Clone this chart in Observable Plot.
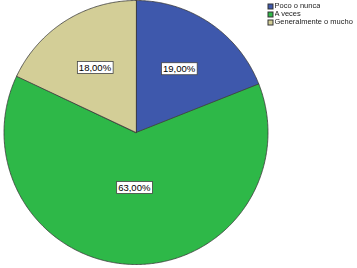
<!DOCTYPE html>
<html><head><meta charset="utf-8">
<script src="https://cdn.jsdelivr.net/npm/d3@7"></script>
<script src="https://cdn.jsdelivr.net/npm/@observablehq/plot@0.6"></script>
<style>
html,body{margin:0;padding:0;background:#fff;}
#wrap{position:relative;width:357px;height:268px;overflow:hidden;}
#legend{position:absolute;left:268px;top:2px;opacity:0.999;will-change:transform;}
.lg-swatches{font-family:"Liberation Sans",Arial,sans-serif !important;font-size:7.5px !important;color:#222 !important;margin:0 !important;min-height:0 !important;-webkit-font-smoothing:antialiased;}
.lg-swatch{display:flex !important;align-items:center !important;height:8px !important;line-height:8px !important;margin:0 !important;padding:0 !important;color:#222 !important;}
.lg-swatch *{color:#222 !important;}
.lg-swatch svg{margin-right:1.5px !important;stroke:#333;stroke-width:1;overflow:visible;}
</style>
</head><body>
<div id="wrap"><div id="chart"></div><div id="legend"></div></div>
<script>
const categories = ["Poco o nunca", "A veces", "Generalmente o mucho"];
const percents = [19, 63, 18];
const labels = ["19,00%", "63,00%", "18,00%"];
const colors = ["#3E58AC", "#2EB848", "#D3CE97"];

// slices from the data (clockwise from 12 o'clock)
const arcs = d3.pie().sort(null).value(d => d)(percents);
const pt = a => [Math.sin(a), -Math.cos(a)];
const slices = arcs.map((a, i) => {
  const ring = [[0, 0]];
  const n = Math.max(8, Math.ceil((a.endAngle - a.startAngle) / 0.01));
  for (let k = 0; k <= n; k++) ring.push(pt(a.startAngle + (a.endAngle - a.startAngle) * k / n));
  ring.push([0, 0]);
  const mid = (a.startAngle + a.endAngle) / 2;
  const r = (a.endAngle - a.startAngle) > Math.PI ? 0.42 : 0.58;
  return {
    type: "Feature",
    properties: {cat: categories[i], label: labels[i], lx: Math.sin(mid) * r, ly: -Math.cos(mid) * r},
    geometry: {type: "Polygon", coordinates: [ring]}
  };
});
const circle = {type: "Polygon", coordinates: [d3.range(0, 361).map(d => pt(d * Math.PI / 180))]};

const chart = Plot.plot({
  width: 357, height: 268,
  marginLeft: 3.5, marginRight: 89.5, marginTop: 0, marginBottom: 4,
  projection: {type: "identity", domain: circle},
  color: {domain: categories, range: colors},
  style: {background: "transparent"},
  marks: [
    Plot.geo(slices, {fill: d => d.properties.cat, stroke: "#3a3a3a", strokeWidth: 0.8}),
    Plot.text(slices, {
      x: d => d.properties.lx, y: d => d.properties.ly, text: d => d.properties.label,
      fontSize: 9.5, fontFamily: "Liberation Sans, Arial, sans-serif", fill: "#000",
      className: "plabel"
    })
  ]
});
document.getElementById("chart").appendChild(chart);

// white boxes behind labels
chart.querySelectorAll("text").forEach(t => {
  if (!labels.includes(t.textContent)) return;
  const b = t.getBBox();
  const rect = document.createElementNS("http://www.w3.org/2000/svg", "rect");
  rect.setAttribute("x", b.x - 1.5);
  rect.setAttribute("y", b.y - 0.5);
  rect.setAttribute("width", b.width + 3);
  rect.setAttribute("height", b.height + 1);
  rect.setAttribute("fill", "#fff");
  rect.setAttribute("stroke", "#444");
  rect.setAttribute("stroke-width", "0.8");
  const tr = t.getAttribute("transform");
  if (tr) rect.setAttribute("transform", tr);
  t.parentNode.insertBefore(rect, t);
});

const lg = Plot.legend({
  color: {type: "ordinal", domain: categories, range: colors},
  legend: "swatches", columns: 1, swatchSize: 5, className: "lg"
});
document.getElementById("legend").appendChild(lg);
</script>
</body></html>
